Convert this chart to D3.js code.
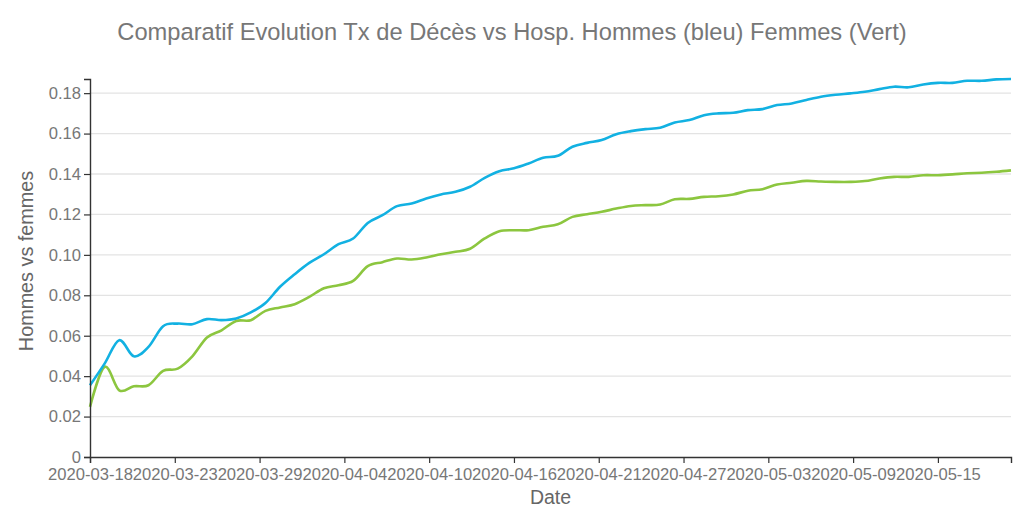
<!DOCTYPE html>
<html>
<head>
<meta charset="utf-8">
<script src="https://cdn.jsdelivr.net/npm/d3@7"></script>
<style>
  html, body { margin: 0; padding: 0; background: #fff; }
  svg { display: block; font-family: "Liberation Sans", Arial, sans-serif; }
</style>
</head>
<body>
<svg id="chart" width="1024" height="518"></svg>
<script>
// ---- data ----
const firstDate = "2020-03-18";
const lastDate = "2020-05-20";
const hommes = [
  0.0355, 0.0462, 0.0578, 0.0498, 0.0545, 0.0647, 0.0660, 0.0657, 0.0682, 0.0677,
  0.0685, 0.0715, 0.0762, 0.0842, 0.0904, 0.0960, 0.1003, 0.1053, 0.1081, 0.1158,
  0.1196, 0.1241, 0.1254, 0.1279, 0.1299, 0.1312, 0.1337, 0.1381, 0.1414, 0.1428,
  0.1452, 0.1480, 0.1490, 0.1535, 0.1554, 0.1568, 0.1597, 0.1612, 0.1622, 0.1629,
  0.1655, 0.1667, 0.1691, 0.1700, 0.1703, 0.1716, 0.1721, 0.1741, 0.1749, 0.1766,
  0.1782, 0.1792, 0.1799, 0.1807, 0.1820, 0.1832, 0.1829, 0.1843, 0.1851, 0.1851,
  0.1861, 0.1861, 0.1868, 0.1870
];
const femmes = [
  0.0248, 0.0446, 0.0330, 0.0350, 0.0355, 0.0426, 0.0437, 0.0498, 0.0591, 0.0627,
  0.0673, 0.0677, 0.0723, 0.0740, 0.0756, 0.0792, 0.0835, 0.0850, 0.0871, 0.0944,
  0.0964, 0.0982, 0.0977, 0.0987, 0.1003, 0.1015, 0.1030, 0.1081, 0.1117, 0.1122,
  0.1122, 0.1139, 0.1151, 0.1188, 0.1201, 0.1213, 0.1229, 0.1242, 0.1246, 0.1249,
  0.1275, 0.1277, 0.1287, 0.1290, 0.1299, 0.1317, 0.1325, 0.1348, 0.1357, 0.1366,
  0.1363, 0.1361, 0.1361, 0.1365, 0.1378, 0.1386, 0.1386, 0.1394, 0.1394, 0.1398,
  0.1404, 0.1406, 0.1411, 0.1418
];
const xTickLabels = ["2020-03-18","2020-03-23","2020-03-29","2020-04-04","2020-04-10",
  "2020-04-16","2020-04-21","2020-04-27","2020-05-03","2020-05-09","2020-05-15"];
const xTickStepDays = 5.8;
const yTicks = [0, 0.02, 0.04, 0.06, 0.08, 0.10, 0.12, 0.14, 0.16, 0.18];
const titleText = "Comparatif Evolution Tx de Décès vs Hosp. Hommes (bleu) Femmes (Vert)";
const yTitle = "Hommes vs femmes";
const xTitle = "Date";

// ---- layout ----
const W = 1024, H = 518;
const margin = { top: 79, right: 13, bottom: 61, left: 90 };
const innerW = W - margin.left - margin.right;
const innerH = H - margin.top - margin.bottom;

const parse = d3.utcParse("%Y-%m-%d");
const start = parse(firstDate), end = parse(lastDate);
const dates = d3.utcDay.range(start, d3.utcDay.offset(end, 1));

const x = d3.scaleUtc().domain([start, end]).range([0, innerW]);
const y = d3.scaleLinear().domain([0, d3.max(hommes)]).range([innerH, 0]);

const svg = d3.select("#chart");
const g = svg.append("g").attr("transform", `translate(${margin.left},${margin.top})`);

// grid
g.append("g").selectAll("line").data(yTicks.filter(d => d > 0)).join("line")
  .attr("x1", 0).attr("x2", innerW)
  .attr("y1", d => y(d)).attr("y2", d => y(d))
  .attr("stroke", "#e3e3e3").attr("stroke-width", 1.3);

// lines
const line = arr => d3.line()
  .x((d, i) => x(dates[i]))
  .y(d => y(d))
  .curve(d3.curveCardinal)(arr);

g.append("path").attr("d", line(femmes))
  .attr("fill", "none").attr("stroke", "#8cc63f").attr("stroke-width", 2.6);
g.append("path").attr("d", line(hommes))
  .attr("fill", "none").attr("stroke", "#12b1e2").attr("stroke-width", 2.6);

// axes
const tickDates = xTickLabels.map((_, i) => new Date(start.getTime() + i * xTickStepDays * 864e5));
const xAxis = d3.axisBottom(x).tickValues(tickDates).tickFormat((d, i) => xTickLabels[i]).tickSize(6).tickSizeOuter(6);
const gx = g.append("g").attr("transform", `translate(0,${innerH})`).call(xAxis);

const yAxis = d3.axisLeft(y).tickValues(yTicks).tickFormat(d => d === 0 ? "0" : d3.format(".2f")(d)).tickSize(6).tickSizeOuter(6);
const gy = g.append("g").call(yAxis);

[gx, gy].forEach(a => {
  a.select(".domain").attr("stroke", "#333").attr("stroke-width", 1.4);
  a.selectAll(".tick line").attr("stroke", "#333").attr("stroke-width", 1.2);
  a.selectAll(".tick text").attr("fill", "#777").attr("font-size", 16.6)
    .attr("font-family", "Liberation Sans, Arial, sans-serif");
});
gx.selectAll(".tick text").attr("dy", "0.85em");
gy.selectAll(".tick text").attr("x", -9);

// titles
svg.append("text").attr("x", W / 2).attr("y", 40).attr("text-anchor", "middle")
  .attr("font-size", 23.7).attr("fill", "#777").text(titleText);

svg.append("text").attr("x", margin.left + innerW / 2).attr("y", 504)
  .attr("text-anchor", "middle").attr("font-size", 19.5).attr("fill", "#666").text(xTitle);

svg.append("text")
  .attr("transform", `translate(33,${margin.top + innerH / 2 - 7}) rotate(-90)`)
  .attr("text-anchor", "middle").attr("font-size", 19.8).attr("fill", "#666").text(yTitle);
</script>
</body>
</html>
